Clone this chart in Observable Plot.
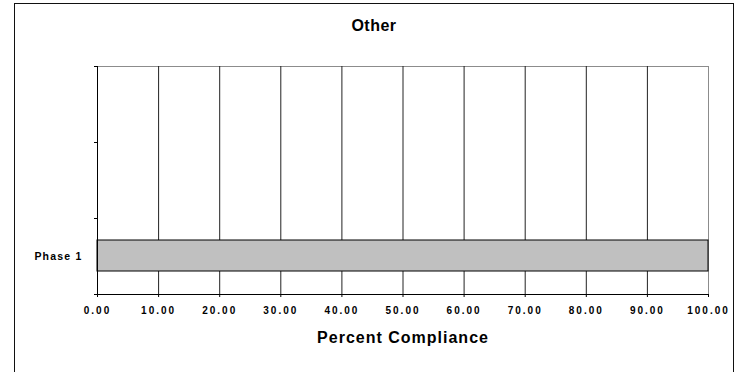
<!DOCTYPE html>
<html>
<head>
<meta charset="utf-8">
<script src="https://cdn.jsdelivr.net/npm/d3@7"></script>
<script src="https://cdn.jsdelivr.net/npm/@observablehq/plot@0.6"></script>
<style>
  html, body { margin: 0; padding: 0; background: #fff; }
  #chart { position: relative; width: 736px; height: 372px; overflow: hidden;
           font-family: "Liberation Sans", Arial, sans-serif; }
  #frame { position: absolute; left: 14px; top: 3px; width: 720px; height: 420px;
           border: 1px solid #111; box-sizing: border-box; }
  #title { position: absolute; left: 14px; width: 720px; top: 18px; line-height: 16px;
           text-align: center; font-weight: bold; font-size: 16px; letter-spacing: 0.5px; color: #000; }
  #plot { position: absolute; left: 0; top: 0; }
</style>
</head>
<body>
<div id="chart">
  <div id="frame"></div>
  <div id="plot"></div>
  <div id="title">Other</div>
</div>
<script>
// Categories from bottom to top; the upper two rows are blank.
const categories = ["Phase 1", "", ""];
const compliance = [100];
const xTicks = [0, 10, 20, 30, 40, 50, 60, 70, 80, 90, 100];
const yBoundaries = [0, 1, 2, 3];
const xTitle = "Percent Compliance";

const rows = compliance.map((value, i) => ({category: categories[i], value, i}));
const fmt = d3.format(".2f");

const plot = Plot.plot({
  width: 736,
  height: 372,
  marginLeft: 97,
  marginRight: 28,
  marginTop: 66,
  marginBottom: 78,
  style: {fontFamily: "'Liberation Sans', Arial, sans-serif", color: "#000", background: "transparent"},
  x: {domain: [0, 100], label: null},
  y: {domain: [0, categories.length], label: null},
  marks: [
    Plot.frame({stroke: "#8c8c8c"}),
    Plot.ruleX(xTicks.filter(d => d > 0 && d < 100), {x: d => d, stroke: "#222"}),
    Plot.rectX(rows, {
      x: "value", y1: "i", y2: d => d.i + 1,
      insetTop: 22, insetBottom: 23,
      fill: "#c0c0c0", stroke: "#000", strokeWidth: 1
    }),
    Plot.ruleY([0], {stroke: "#000"}),
    Plot.ruleX([0], {stroke: "#000"}),
    Plot.axisX({ticks: xTicks, tickSize: 3, tickFormat: () => "", label: null, stroke: "#000"}),
    Plot.axisY({ticks: yBoundaries, tickSize: 3, tickFormat: () => "", label: null, stroke: "#000"}),
    Plot.text(xTicks, {
      x: d => d, text: d => fmt(d), frameAnchor: "bottom", dy: 16,
      lineAnchor: "middle", fontSize: 10, fontWeight: "bold", fill: "#000"
    }),
    Plot.text(categories, {
      y: (d, i) => i + 0.5, text: d => d, frameAnchor: "left", dx: -15,
      textAnchor: "end", lineAnchor: "middle", fontSize: 10.5, fontWeight: "bold", fill: "#000"
    }),
    Plot.text([xTitle], {
      frameAnchor: "bottom", dy: 43.5, lineAnchor: "middle",
      fontSize: 16, fontWeight: "bold", fill: "#000"
    })
  ]
});

// Letter spacing for the spaced-out labels, keyed by their font size.
const svg = d3.select(plot);
svg.selectAll('g[font-size="10"] text').attr("letter-spacing", 2);
svg.selectAll('g[font-size="10.5"] text').attr("letter-spacing", 1.2);
svg.selectAll('g[font-size="16"] text').attr("letter-spacing", 1);

document.getElementById("plot").appendChild(plot);
</script>
</body>
</html>
